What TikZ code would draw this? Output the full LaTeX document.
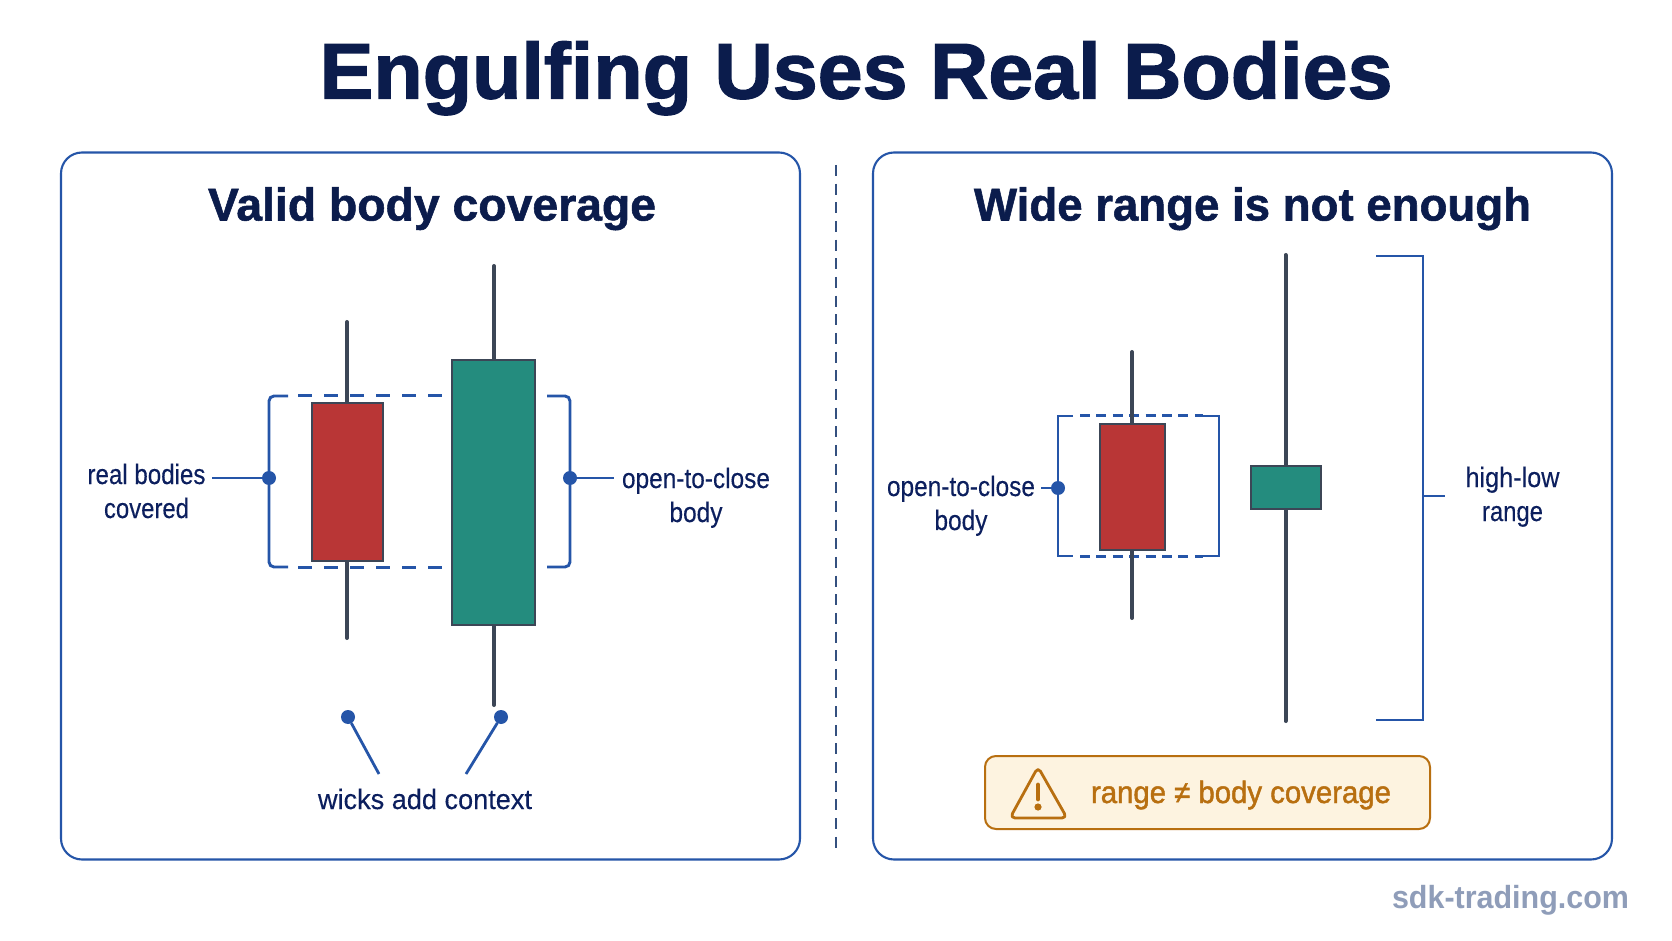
\documentclass[tikz,border=0pt]{standalone}
\usepackage{fontspec}
\usepackage{graphicx}
\setmainfont{Liberation Sans}
\newfontfamily\ttlfont[FakeBold=1.6]{Liberation Sans Bold}
\newfontfamily\subfont[FakeBold=1.2]{Liberation Sans Bold}
\newfontfamily\labfont[FakeBold=0.25]{Liberation Sans}
\newfontfamily\warnfont[FakeBold=1.5]{Liberation Sans}
\definecolor{navy}{HTML}{0B1C4C}
\definecolor{labnavy}{HTML}{0C1F5E}
\definecolor{blueline}{HTML}{2555A8}
\definecolor{divc}{HTML}{34507F}
\definecolor{wickc}{HTML}{3C4656}
\definecolor{redc}{HTML}{B93636}
\definecolor{greenc}{HTML}{248C7E}
\definecolor{amber}{HTML}{B86F10}
\definecolor{amberfill}{HTML}{FDF3E0}
\definecolor{wm}{HTML}{8F9DB9}
% width-fitted text: #1 target width, #2 text
\newcommand{\fw}[2]{\resizebox{#1}{\height}{#2}}
\tikzset{
  panel/.style={draw=blueline,line width=1.05pt,rounded corners=10.5pt,fill=white,minimum height=353.5pt,inner sep=0pt,outer sep=0pt},
  candle/.style={draw=wickc,line width=1pt,inner sep=0pt,outer sep=0pt},
  redbody/.style={candle,fill=redc},
  greenbody/.style={candle,fill=greenc},
  wick/.style={draw=wickc,line width=2pt,line cap=round},
  bline/.style={draw=blueline,line width=1.45pt},
  leader/.style={draw=blueline,line width=1.4pt},
  dot/.style={circle,fill=blueline,inner sep=0pt,minimum size=7pt,outer sep=0pt},
  dashA/.style={draw=blueline,line width=1.5pt,dash pattern=on 7pt off 6pt},
  dashB/.style={draw=blueline,line width=1.5pt,dash pattern=on 5pt off 3.2pt},
  mainttl/.style={anchor=base,inner sep=0pt,text=navy,font=\fontsize{39.5}{50}\ttlfont},
  subttl/.style={anchor=base,inner sep=0pt,text=navy,font=\fontsize{23}{30}\subfont},
  lab/.style={anchor=base,inner sep=0pt,align=center,text=labnavy,font=\fontsize{14}{17}\labfont},
  warnbox/.style={draw=amber,fill=amberfill,line width=1pt,rounded corners=5.5pt,minimum width=222.5pt,minimum height=36.5pt,inner sep=0pt,outer sep=0pt},
}
\begin{document}
\begin{tikzpicture}[x=0.5pt,y=-0.5pt]
\useasboundingbox[fill=white] (0,0) rectangle (1672,941);

\node[mainttl] (title) at (856,98.5) {\fw{536.5pt}{Engulfing Uses Real Bodies}};

\node[panel,minimum width=369.5pt] (panelL) at (430.5,506) {};
\node[panel,minimum width=369.5pt] (panelR) at (1242.5,506) {};

\coordinate (divT) at (836,165);
\coordinate (divB) at (836,848);
\draw[draw=divc,line width=1pt,dash pattern=on 5.5pt off 3.83pt] (divT) -- (divB);

\node[subttl] (subL) at (432,220.5) {\fw{224pt}{Valid body coverage}};
\node[subttl] (subR) at (1252.5,220.5) {\fw{278.5pt}{Wide range is not enough}};

% --- left panel brackets (below the candles)
\coordinate (bLa) at (288,396); \coordinate (bLb) at (269,396);
\coordinate (bLc) at (269,567); \coordinate (bLd) at (288,567);
\coordinate (bLe) at (444,396); \coordinate (bLf) at (444,567);
\draw[bline,rounded corners=2.5pt] (bLa) -- (bLb) -- (bLc) -- (bLd);
\draw[dashA] (bLa) ++(10,0) -- (bLe);
\draw[dashA] (bLd) ++(10,0) -- (bLf);
\coordinate (bRa) at (547,396); \coordinate (bRb) at (570,396);
\coordinate (bRc) at (570,567); \coordinate (bRd) at (547,567);
\draw[bline,rounded corners=2.5pt] (bRa) -- (bRb) -- (bRc) -- (bRd);

% --- left candles
\coordinate (w1t) at (347,322); \coordinate (w1b) at (347,638);
\coordinate (w2t) at (494,266); \coordinate (w2b) at (494,705);
\draw[wick] (w1t) -- (w1b);
\draw[wick] (w2t) -- (w2b);
\node[redbody,minimum width=35.75pt,minimum height=78.5pt] (c1) at (347.25,482) {};
\node[greenbody,minimum width=41.5pt,minimum height=132.5pt] (c2) at (493.5,492.5) {};

% --- left labels
\node[dot] (dLL) at (269,478) {};
\coordinate (lLL) at (212,478);
\draw[leader] (lLL) -- (dLL);
\node[lab] (tLL) at (146.5,518) {\fw{59pt}{real bodies}\\\fw{42.5pt}{covered}};

\node[dot] (dLR) at (570,478) {};
\coordinate (lLR) at (614,478);
\draw[leader] (dLR) -- (lLR);
\node[lab] (tLR) at (696,522) {\fw{74pt}{open-to-close}\\\fw{26.5pt}{body}};

\node[dot] (dW1) at (348,717) {};
\node[dot] (dW2) at (501,717) {};
\coordinate (lW1) at (379,774); \coordinate (lW2) at (466,774);
\draw[leader] (dW1) -- (lW1);
\draw[leader] (dW2) -- (lW2);
\node[lab] (tW) at (425,809) {\fw{107pt}{wicks add context}};

% --- right panel box
\coordinate (bxA) at (1058,416); \coordinate (bxB) at (1219,416);
\coordinate (bxC) at (1219,556); \coordinate (bxD) at (1058,556);
\coordinate (bxE) at (1073,416); \coordinate (bxF) at (1203,416);
\coordinate (bxG) at (1073,556); \coordinate (bxH) at (1203,556);
\draw[bline] (bxE) -- (bxA) -- (bxD) -- (bxG);
\draw[bline] (bxF) -- (bxB) -- (bxC) -- (bxH);
\draw[dashB] (bxE) ++(7,0) -- (bxF);
\draw[dashB] (bxG) ++(7,0) -- (bxH);

% --- right candles
\coordinate (w3t) at (1132,352); \coordinate (w3b) at (1132,618);
\coordinate (w4t) at (1285.5,255); \coordinate (w4b) at (1285.5,721);
\draw[wick] (w3t) -- (w3b);
\draw[wick] (w4t) -- (w4b);
\node[redbody,minimum width=32.5pt,minimum height=63pt] (c3) at (1132,487) {};
\node[greenbody,minimum width=35pt,minimum height=21.5pt] (c4) at (1286,487.5) {};

\node[dot] (dRL) at (1058,488) {};
\coordinate (lRL) at (1041,488);
\draw[leader] (lRL) -- (dRL);
\node[lab] (tRL) at (961,530) {\fw{74pt}{open-to-close}\\\fw{26.5pt}{body}};

% --- big range bracket
\coordinate (brA) at (1376,256); \coordinate (brB) at (1423,256);
\coordinate (brC) at (1423,720); \coordinate (brD) at (1376,720);
\coordinate (brM) at (1423,496); \coordinate (brT) at (1445,496);
\draw[bline] (brA) -- (brB) -- (brC) -- (brD);
\draw[bline] (brM) -- (brT);
\node[lab] (tRR) at (1512.5,521) {\fw{47pt}{high-low}\\\fw{30.5pt}{range}};

% --- warning box
\node[warnbox] (warn) at (1207.5,792.5) {};
\coordinate (triA) at (1038,767); \coordinate (triB) at (1067,818); \coordinate (triC) at (1010,818);
\draw[draw=amber,line width=1.4pt,rounded corners=2.5pt,line join=round] (triA) -- (triB) -- (triC) -- cycle;
\coordinate (exA) at (1038,785); \coordinate (exB) at (1038,799); \coordinate (exC) at (1038,807);
\draw[draw=amber,line width=2.4pt,line cap=round] (exA) -- (exB);
\fill[amber] (exC) circle (3.6);
\node[anchor=base,inner sep=0pt,text=amber,font=\fontsize{15.5}{18}\warnfont] (warnT) at (1241,803) {\fw{150pt}{range ≠ body coverage}};

\node[anchor=base,inner sep=0pt,text=wm,font=\fontsize{16}{20}\selectfont\bfseries] (wmk) at (1510.5,908) {\fw{118.5pt}{sdk-trading.com}};
\end{tikzpicture}
\end{document}
